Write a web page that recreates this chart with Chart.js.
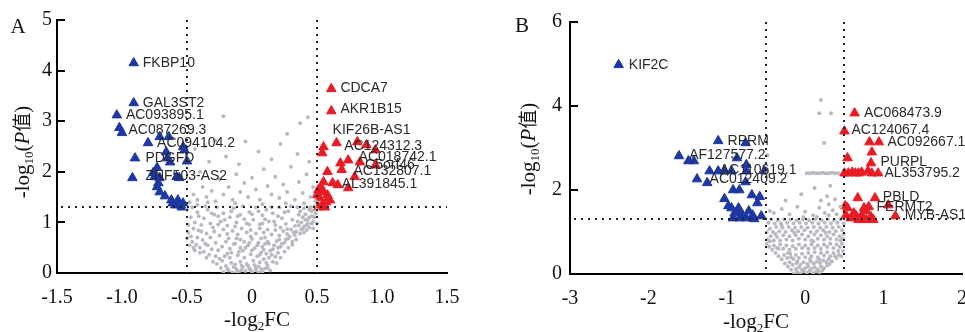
<!DOCTYPE html>
<html lang="zh-CN">
<head>
<meta charset="UTF-8">
<title>差异表达火山图</title>
<script src="https://cdn.jsdelivr.net/npm/chart.js"></script>
<style>
  html, body { margin: 0; padding: 0; background: #fff; overflow: hidden; }
  .panel { position: absolute; top: 0; height: 332px; }
  #panelA { left: 0; width: 480px; }
  #panelB { left: 480px; width: 500px; }
</style>
</head>
<body>
<div class="panel" id="panelA"><canvas id="chartA"></canvas></div>
<div class="panel" id="panelB"><canvas id="chartB"></canvas></div>
<script>
// ---------- 面板 A ----------
const xTicksA = [-1.5, -1.0, -0.5, 0, 0.5, 1.0, 1.5];
const xTickLabelsA = ['-1.5', '-1.0', '-0.5', '0', '0.5', '1.0', '1.5'];
const yTicksA = [0, 1, 2, 3, 4, 5];

const grayA = [
  [-0.22,0.02],[-0.18,0.05],[-0.15,0.01],[-0.12,0.08],[-0.1,0.03],[-0.07,0.12],[-0.05,0.04],[-0.02,0.09],[0,0.02],[0.03,0.06],
  [0.05,0.13],[0.08,0.03],[0.1,0.09],[0.12,0.15],[0.14,0.05],[-0.2,0.14],[-0.16,0.2],[-0.13,0.17],[-0.09,0.22],[-0.04,0.18],
  [0.01,0.24],[0.06,0.21],[0.09,0.27],[0.13,0.3],[0.16,0.22],[-0.24,0.1],[-0.27,0.18],[-0.3,0.22],[-0.25,0.28],[-0.21,0.33],
  [-0.17,0.3],[-0.11,0.35],[-0.06,0.3],[-0.01,0.37],[0.04,0.33],[0.07,0.4],[0.11,0.38],[0.15,0.36],[0.18,0.32],[0.2,0.4],
  [0.03,0.11],[-0.08,0.15],[-0.19,0.08],[-0.14,0.12],[-0.03,0.14],[0.02,0.16],[0.07,0.08],[-0.08,0.06],[0.11,0.2],[-0.23,0.24],
  [-0.1,0.42],[0,0.45],[0.09,0.46],[-0.16,0.4],[0.14,0.44],[-0.05,0.5],[0.04,0.55],[-0.13,0.58],[0.12,0.62],[-0.01,0.72],
  [0.07,0.68],[-0.18,0.68],
  [-0.44,0.45],[-0.4,0.5],[-0.37,0.42],[-0.34,0.55],[-0.31,0.47],[-0.28,0.6],[-0.26,0.45],[-0.23,0.52],[-0.2,0.62],[-0.17,0.48],
  [-0.14,0.57],[-0.12,0.68],[-0.09,0.5],[-0.06,0.62],[-0.03,0.55],[0,0.67],[0.02,0.49],[0.05,0.6],[0.08,0.52],[0.1,0.7],
  [0.13,0.58],[0.16,0.47],[0.19,0.63],[0.22,0.52],[0.25,0.6],[0.28,0.68],[0.31,0.62],[0.33,0.75],[-0.46,0.62],[-0.42,0.7],
  [-0.38,0.65],[-0.35,0.78],[-0.32,0.7],[-0.29,0.82],[-0.25,0.74],[-0.22,0.86],[-0.19,0.77],[-0.15,0.83],[-0.11,0.76],[-0.08,0.88],
  [-0.04,0.8],[-0.01,0.85],[0.03,0.78],[0.06,0.88],[0.09,0.8],[0.12,0.86],[0.15,0.76],[0.18,0.85],[0.21,0.74],[0.24,0.83],
  [0.27,0.77],[0.3,0.86],[0.34,0.82],[0.37,0.78],[0.39,0.88],[-0.48,0.55],[-0.49,0.8],[-0.45,0.88],[-0.41,0.84],
  [0.4,0.92],[0.43,0.98],[0.46,1.12],[0.44,1.25],[0.38,0.86],[0.36,0.94],[0.32,0.8],[0.29,0.72],[0.26,0.66],[0.23,0.58],[0.2,0.5],
  [-0.49,0.95],[-0.47,1.1],[-0.44,1.0],[-0.42,1.2],[-0.39,0.95],[-0.37,1.08],[-0.34,1.25],[-0.32,0.98],[-0.29,1.15],[-0.27,1.3],
  [-0.24,1.02],[-0.22,1.18],[-0.19,0.94],[-0.17,1.1],[-0.14,1.28],[-0.12,1.0],[-0.09,1.15],[-0.07,1.32],[-0.04,0.98],[-0.02,1.2],
  [0.01,1.05],[0.03,1.3],[0.06,0.96],[0.08,1.14],[0.11,1.25],[0.13,1.02],[0.16,1.18],[0.18,0.95],[0.21,1.3],[0.23,1.08],
  [0.26,0.97],[0.28,1.22],[0.31,1.05],[0.33,0.93],[0.36,1.15],[0.38,1.0],[0.4,1.28],[0.42,0.95],[0.44,1.1],[0.46,1.22],
  [0.47,1.02],[0.49,1.18],[0.48,1.32],[0.45,1.3],[0.43,1.05],[0.41,1.16],[0.35,1.3],[-0.5,1.25],[-0.46,1.3],[-0.41,1.12],
  [-0.36,1.32],[-0.31,1.18],[-0.26,1.12],[-0.21,1.05],[-0.16,1.22],[-0.11,1.12],[-0.06,1.06],[0,1.16],[0.05,1.22],[0.1,1.06],
  [0.15,1.3],[0.2,1.12],[0.25,1.2],[0.3,1.32],[0.37,1.22],[0.39,1.1],
  [-0.33,0.36],[-0.36,0.58],[-0.43,0.56],[-0.47,0.72],[-0.3,0.9],[-0.26,0.96],[-0.13,0.92],[-0.02,0.96],[0.08,0.98],[0.17,1.02],
  [0.22,0.9],[0.27,0.87],[0.35,1.02],[0.41,1.05],[0.46,0.98],[0.48,1.1],[0.5,1.25],[0.5,0.98],[0.47,0.88],[0.42,0.85],
  [-0.07,0.44],[0.06,0.36],[-0.19,0.38],[0.17,0.55],[-0.28,0.33],[-0.02,0.6],[0.1,0.58],[-0.09,0.66],[0.21,0.66],[-0.39,0.82],
  [-0.5,0.68],[-0.01,0.05],[0.05,0.01],[-0.12,0.0],[0.12,0.1],[0.19,0.2],[0.22,0.3],[0.25,0.42],[0.28,0.5],[0.31,0.56],
  [0.34,0.66],[0.4,0.8],[0.44,0.9],[-0.35,0.3],[-0.4,0.4],[-0.45,0.5],[-0.34,1.4],[-0.13,1.38],[0.08,1.36],[0.26,1.38],
  [0.4,1.38],[-0.42,1.35],
  [-0.48,1.4],[-0.45,1.55],[-0.42,1.45],[-0.38,1.7],[-0.35,1.5],[-0.31,1.62],[-0.28,1.42],[-0.25,1.85],[-0.22,1.55],[-0.18,1.7],
  [-0.15,1.45],[-0.12,1.95],[-0.09,1.6],[-0.06,1.78],[-0.03,1.5],[0,1.88],[0.03,1.65],[0.06,1.45],[0.09,2.05],[0.12,1.72],
  [0.15,1.55],[0.18,1.9],[0.21,1.48],[0.24,1.75],[0.27,1.6],[0.3,2.1],[0.33,1.45],[0.36,1.8],[0.39,1.58],[0.42,1.95],
  [0.45,1.5],[0.47,1.7],[0.49,1.42],[-0.4,2.0],[-0.33,2.2],[-0.2,2.3],[-0.1,2.15],[0.05,2.4],[0.15,2.25],[0.22,2.55],
  [0.35,2.35],[0.44,2.2],[-0.44,2.45],[-0.28,2.62],[0.27,2.75],[0.37,2.96],[0.43,3.08],[-0.22,3.1],[-0.36,2.5],[-0.05,2.6]
];
const downA = [
  [-0.91,4.15],[-0.91,3.36],[-1.04,3.12],[-1.02,2.87],[-1.0,2.77],[-0.8,2.57],[-0.71,2.69],[-0.64,2.69],[-0.53,2.49],[-0.52,2.43],
  [-0.9,2.27],[-0.66,2.39],[-0.65,2.27],[-0.63,2.19],[-0.5,2.21],[-0.92,1.88],[-0.73,2.08],[-0.76,1.98],[-0.71,1.88],[-0.72,1.78],
  [-0.58,1.9],[-0.56,1.88],[-0.71,1.6],[-0.67,1.52],[-0.62,1.44],[-0.59,1.34],[-0.55,1.34],[-0.57,1.44],[-0.53,1.38],[-0.54,1.3],
  [-0.61,1.38],[-0.73,1.7],[-0.75,1.9]
];
const upA = [
  [0.61,3.64],[0.61,3.2],[0.55,2.49],[0.65,2.57],[0.81,2.59],[0.88,2.53],[0.95,2.43],[0.54,2.37],[0.68,2.17],[0.74,2.23],
  [0.83,2.19],[0.95,2.13],[0.69,2.04],[0.79,1.9],[0.58,2.0],[0.55,1.8],[0.62,1.78],[0.66,1.74],[0.74,1.68],[0.51,1.64],
  [0.55,1.6],[0.58,1.54],[0.52,1.48],[0.6,1.44],[0.54,1.34],[0.51,1.3],[0.56,1.3],[0.5,1.54],[0.53,1.7],[0.57,1.4]
];
const geneNamesA = ['FKBP10', 'GAL3ST2', 'AC093895.1', 'AC087269.3', 'AC094104.2', 'PDGFD', 'ZNF503-AS2',
  'CDCA7', 'AKR1B15', 'KIF26B-AS1', 'AC124312.3', 'AC018742.1', 'C5orf46', 'AC132807.1', 'AL391845.1'];
const genePosA = [[-0.84,4.15],[-0.84,3.36],[-0.97,3.12],[-0.95,2.83],[-0.73,2.57],[-0.82,2.27],[-0.82,1.92],
  [0.68,3.66],[0.68,3.24],[0.62,2.83],[0.71,2.51],[0.82,2.29],[0.87,2.13],[0.78,2.02],[0.69,1.76]];

// ---------- 面板 B ----------
const xTicksB = [-3, -2, -1, 0, 1, 2];
const xTickLabelsB = ['-3', '-2', '-1', '0', '1', '2'];
const yTicksB = [0, 2, 4, 6];

const grayB = [
  [-0.14,0.02],[-0.1,0.05],[-0.06,0.01],[-0.02,0.07],[0.02,0.03],[0.06,0.08],[0.1,0.02],[0.14,0.06],[0.18,0.04],[0.22,0.09],
  [-0.12,0.12],[-0.08,0.16],[-0.04,0.1],[0,0.14],[0.04,0.18],[0.08,0.12],[0.12,0.16],[0.16,0.11],[0.2,0.18],[0.24,0.14],
  [0.28,0.2],[-0.18,0.1],[-0.22,0.18],[-0.26,0.25],[-0.2,0.28],[-0.16,0.22],[-0.11,0.26],[-0.06,0.22],[-0.02,0.28],[0.03,0.24],
  [0.07,0.3],[0.11,0.25],[0.15,0.3],[0.19,0.26],[0.23,0.32],[0.27,0.28],[0.31,0.24],[0.34,0.3],
  [-0.3,0.35],[-0.34,0.42],[-0.38,0.5],[-0.27,0.45],[-0.23,0.38],[-0.19,0.48],[-0.15,0.36],[-0.12,0.45],[-0.08,0.38],[-0.04,0.48],
  [0,0.4],[0.04,0.5],[0.08,0.42],[0.12,0.52],[0.16,0.4],[0.2,0.5],[0.24,0.44],[0.28,0.52],[0.32,0.42],[0.36,0.5],
  [0.4,0.38],[0.43,0.46],[0.46,0.42],[0.48,0.55],[-0.42,0.58],[-0.46,0.65],[-0.49,0.72],[-0.4,0.68],[-0.36,0.62],[-0.32,0.7],
  [-0.28,0.6],[-0.24,0.68],[-0.2,0.58],[-0.16,0.66],[-0.12,0.6],[-0.08,0.7],[-0.04,0.62],[0,0.68],[0.04,0.6],[0.08,0.7],
  [0.12,0.62],[0.16,0.68],[0.2,0.6],[0.24,0.7],[0.28,0.64],[0.32,0.72],[0.36,0.62],[0.4,0.7],[0.44,0.64],[0.47,0.72],
  [-0.48,0.82],[-0.44,0.9],[-0.4,0.8],[-0.36,0.88],[-0.32,0.8],[-0.28,0.92],[-0.24,0.82],[-0.2,0.9],[-0.16,0.8],[-0.12,0.92],
  [-0.08,0.84],[-0.04,0.94],[0,0.82],[0.04,0.9],[0.08,0.8],[0.12,0.94],[0.16,0.84],[0.2,0.92],[0.24,0.82],[0.28,0.9],
  [0.32,0.84],[0.36,0.94],[0.4,0.82],[0.44,0.9],[0.48,0.84],
  [-0.49,1.0],[-0.45,1.08],[-0.41,1.0],[-0.37,1.12],[-0.33,1.02],[-0.29,1.1],[-0.25,1.0],[-0.21,1.12],[-0.17,1.04],[-0.13,1.1],
  [-0.09,1.02],[-0.05,1.12],[-0.01,1.04],[0.03,1.1],[0.07,1.0],[0.11,1.12],[0.15,1.02],[0.19,1.1],[0.23,1.04],[0.27,1.12],
  [0.31,1.0],[0.35,1.1],[0.39,1.02],[0.43,1.12],[0.47,1.04],
  [-0.47,1.22],[-0.43,1.3],[-0.39,1.2],[-0.35,1.28],[-0.31,1.2],[-0.27,1.3],[-0.23,1.22],[-0.19,1.3],[-0.15,1.2],[-0.11,1.28],
  [-0.07,1.22],[-0.03,1.3],[0.01,1.2],[0.05,1.28],[0.09,1.22],[0.13,1.3],[0.17,1.2],[0.21,1.28],[0.25,1.22],[0.29,1.3],
  [0.33,1.2],[0.37,1.28],[0.41,1.22],[0.45,1.3],[0.49,1.2],
  [-0.45,0.78],[-0.38,0.95],[-0.34,0.6],[-0.22,0.5],[-0.1,0.3],[0.06,0.35],[0.18,0.35],[0.3,0.35],[0.38,0.42],[0.42,0.55],
  [0.45,0.8],[0.49,0.95],[-0.3,1.15],[-0.02,1.36],[0.15,1.36],[0.3,1.4],[-0.18,0.4],[0.1,0.78],[-0.14,0.98],[0.26,0.98],
  [-0.4,1.45],[-0.3,1.55],[-0.2,1.42],[-0.1,1.6],[0,1.48],[0.1,1.4],[0.18,1.58],[0.25,1.45],[0.3,1.66],[0.35,1.52],
  [0.4,1.42],[0.45,1.6],[0.2,1.75],[0.28,1.85],[0.38,1.78],[-0.05,1.9],[0.12,2.05],[0.32,2.1],[-0.25,1.75],[-0.45,1.5],
  [0.02,2.4],[0.06,2.4],[0.1,2.41],[0.14,2.4],[0.18,2.4],[0.22,2.41],[0.26,2.4],[0.3,2.4],[0.34,2.41],[0.38,2.4],
  [0.42,2.4],[-0.48,2.42],[0.2,4.14],[0.18,3.83],[0.33,3.83],[0.24,3.12],[-0.48,2.83]
];
const downB = [
  [-2.38,4.98],[-1.11,3.17],[-0.76,3.12],[-1.61,2.81],[-1.49,2.69],[-1.42,2.69],[-0.87,2.76],[-0.75,2.6],[-1.22,2.45],[-1.11,2.45],
  [-1.03,2.45],[-0.94,2.45],[-0.75,2.45],[-0.52,2.45],[-1.38,2.26],[-1.25,2.17],[-0.76,2.19],[-0.92,2.0],[-0.84,2.0],[-1.03,1.79],
  [-0.68,1.88],[-0.58,1.84],[-0.61,1.69],[-0.94,1.57],[-0.85,1.57],[-0.9,1.45],[-0.8,1.4],[-0.67,1.4],[-0.56,1.38],[-0.92,1.33],
  [-0.84,1.33],[-0.75,1.33],[-0.65,1.31],[-0.98,1.62],[-0.72,1.5],[-0.86,1.5]
];
const upB = [
  [0.63,3.83],[0.5,3.4],[0.82,3.14],[0.94,3.14],[0.85,2.9],[0.54,2.76],[0.84,2.64],[0.5,2.4],[0.55,2.4],[0.6,2.42],
  [0.64,2.4],[0.68,2.4],[0.72,2.42],[0.8,2.45],[0.85,2.4],[0.93,2.4],[0.67,1.81],[0.89,1.81],[0.54,1.57],[0.75,1.57],
  [0.81,1.6],[1.06,1.64],[0.52,1.4],[0.65,1.38],[0.72,1.4],[0.84,1.36],[0.68,1.29],[0.78,1.29],[0.87,1.29],[0.58,1.33],
  [1.15,1.38],[0.51,1.62],[0.78,1.5],[0.62,1.45]
];
const geneNamesB = ['KIF2C', 'RPRM', 'AF127577.2', 'AC110619.1', 'AC012409.2',
  'AC068473.9', 'AC124067.4', 'AC092667.1', 'PURPL', 'AL353795.2', 'PBLD', 'FERMT2', 'MYB-AS1'];
const genePosB = [[-2.25,4.98],[-0.99,3.17],[-1.48,2.83],[-1.09,2.48],[-1.22,2.26],
  [0.75,3.83],[0.59,3.43],[1.05,3.14],[0.96,2.67],[1.01,2.40],[0.99,1.83],[0.91,1.60],[1.27,1.40]];

const FC_CUT = 0.5;
const P_CUT = 1.301; // -log10(0.05)

const SERIF = '"Liberation Serif", "Times New Roman", serif';
const SANS = '"Liberation Sans", Arial, sans-serif';
const CJK = '"Noto Sans CJK SC", sans-serif';

function toPts(arr) {
  return arr.map(p => ({ x: p[0], y: p[1] }));
}

function drawRich(ctx, parts, cx, cy, rotate) {
  ctx.save();
  ctx.translate(cx, cy);
  if (rotate) ctx.rotate(-Math.PI / 2);
  ctx.fillStyle = '#111';
  ctx.textBaseline = 'alphabetic';
  ctx.textAlign = 'left';
  let w = 0;
  parts.forEach(p => { ctx.font = p.font; w += ctx.measureText(p.t).width; });
  let x = -w / 2;
  parts.forEach(p => {
    ctx.font = p.font;
    ctx.fillText(p.t, x, 7 + (p.dy || 0));
    x += ctx.measureText(p.t).width;
  });
  ctx.restore();
}

const yTitleParts = [
  { t: '-log', font: '21px ' + SERIF },
  { t: '10', font: '13px ' + SERIF, dy: 4 },
  { t: '(', font: '21px ' + SERIF },
  { t: 'P', font: 'italic 21px ' + SERIF },
  { t: '值', font: '19px ' + CJK },
  { t: ')', font: '21px ' + SERIF }
];
const xTitleParts = [
  { t: '-log', font: '21px ' + SERIF },
  { t: '2', font: '13px ' + SERIF, dy: 4 },
  { t: 'FC', font: '21px ' + SERIF }
];

function volcanoPlugin(cfg) {
  return {
    id: 'volcano',
    afterDatasetDraw(chart, args) {
      if (args.index !== 0) return;
      // 阈值虚线
      const { ctx, chartArea: a, scales: { x, y } } = chart;
      ctx.save();
      ctx.strokeStyle = '#222';
      ctx.lineWidth = 2;
      ctx.setLineDash([2, 5]);
      [-FC_CUT, FC_CUT].forEach(v => {
        const px = Math.round(x.getPixelForValue(v));
        ctx.beginPath();
        ctx.moveTo(px, a.top);
        ctx.lineTo(px, a.bottom);
        ctx.stroke();
      });
      const py = Math.round(y.getPixelForValue(P_CUT));
      ctx.beginPath();
      ctx.moveTo(a.left + 4, py);
      ctx.lineTo(a.right, py);
      ctx.stroke();
      ctx.restore();
    },
    afterDraw(chart) {
      const { ctx, chartArea: a, scales: { x, y } } = chart;
      ctx.save();
      // 基因名标注
      ctx.font = '14px ' + SANS;
      ctx.fillStyle = '#2a2a2a';
      ctx.textBaseline = 'middle';
      ctx.textAlign = 'left';
      cfg.names.forEach((n, i) => {
        ctx.fillText(n, x.getPixelForValue(cfg.pos[i][0]), y.getPixelForValue(cfg.pos[i][1]));
      });
      // y 轴内向刻度
      ctx.strokeStyle = '#000';
      ctx.lineWidth = 2;
      cfg.yTicks.forEach(v => {
        const py = Math.round(y.getPixelForValue(v));
        ctx.beginPath();
        ctx.moveTo(a.left, py);
        ctx.lineTo(a.left + 8, py);
        ctx.stroke();
      });
      // 面板字母
      ctx.font = '21px ' + SERIF;
      ctx.fillStyle = '#111';
      ctx.textAlign = 'center';
      ctx.fillText(cfg.letter, cfg.letterAt[0], cfg.letterAt[1]);
      ctx.restore();
      drawRich(ctx, yTitleParts, cfg.yTitleAt[0], cfg.yTitleAt[1], true);
      drawRich(ctx, xTitleParts, cfg.xTitleAt[0], cfg.xTitleAt[1], false);
    }
  };
}

function makePanel(id, cfg) {
  return new Chart(document.getElementById(id), {
    type: 'scatter',
    data: {
      datasets: [
        { data: toPts(cfg.gray), pointStyle: 'circle', pointRadius: 2, backgroundColor: '#b9b9c3', borderWidth: 0 },
        { data: toPts(cfg.down), pointStyle: 'triangle', pointRadius: 5.5, backgroundColor: '#1d37a3', borderColor: '#1d37a3', borderWidth: 1 },
        { data: toPts(cfg.up), pointStyle: 'triangle', pointRadius: 5.5, backgroundColor: '#ea1b24', borderColor: '#ea1b24', borderWidth: 1 }
      ]
    },
    options: {
      responsive: true,
      maintainAspectRatio: false,
      animation: false,
      events: [],
      layout: { padding: { top: cfg.padTop, right: cfg.padRight, left: 0, bottom: 0 } },
      plugins: { legend: { display: false }, tooltip: { enabled: false } },
      scales: {
        x: {
          type: 'linear',
          min: cfg.xTicks[0],
          max: cfg.xTicks[cfg.xTicks.length - 1],
          afterBuildTicks: s => { s.ticks = cfg.xTicks.map(v => ({ value: v })); },
          afterFit: s => { s.height = cfg.xAxisH; },
          ticks: {
            callback: (v, i) => cfg.xLabels[i],
            font: { family: SERIF, size: 20 },
            color: '#111',
            padding: 13,
            maxRotation: 0
          },
          grid: { display: true, drawOnChartArea: false, drawTicks: false },
          border: { color: '#000', width: 2 }
        },
        y: {
          type: 'linear',
          min: cfg.yTicks[0],
          max: cfg.yTicks[cfg.yTicks.length - 1],
          afterBuildTicks: s => { s.ticks = cfg.yTicks.map(v => ({ value: v })); },
          afterFit: s => { s.width = cfg.yAxisW; },
          ticks: {
            font: { family: SERIF, size: 20 },
            color: '#111',
            padding: cfg.yPad
          },
          grid: { display: true, drawOnChartArea: false, drawTicks: false },
          border: { color: '#000', width: 2 }
        }
      }
    },
    plugins: [volcanoPlugin(cfg)]
  });
}

makePanel('chartA', {
  gray: grayA, down: downA, up: upA, names: geneNamesA, pos: genePosA,
  xTicks: xTicksA, xLabels: xTickLabelsA, yTicks: yTicksA,
  padTop: 20, padRight: 33, yAxisW: 57, xAxisH: 59, yPad: 5,
  letter: 'A', letterAt: [18, 27], yTitleAt: [22, 152], xTitleAt: [257, 319]
});

makePanel('chartB', {
  gray: grayB, down: downB, up: upB, names: geneNamesB, pos: genePosB,
  xTicks: xTicksB, xLabels: xTickLabelsB, yTicks: yTicksB,
  padTop: 22, padRight: 16, yAxisW: 90, xAxisH: 58, yPad: 8,
  letter: 'B', letterAt: [42, 26], yTitleAt: [48, 149], xTitleAt: [276, 321]
});
</script>
</body>
</html>
